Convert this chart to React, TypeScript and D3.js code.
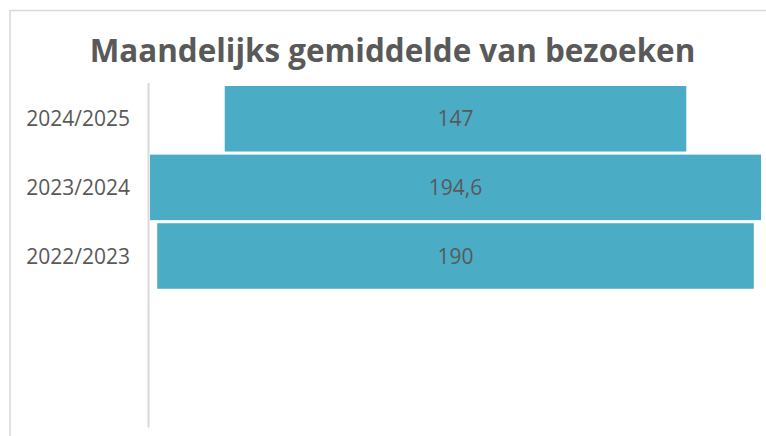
import React from "react";
import * as d3 from "d3";

const title = "Maandelijks gemiddelde van bezoeken";
const categories = ["2024/2025", "2023/2024", "2022/2023"];
const values = [147, 194.6, 190];
const slotCount = 5; // the category axis holds two empty slots below the bars

const W = 766;
const H = 436;

export default function App() {
  const plotLeft = 150;
  const plotRight = 761;
  const centerX = (plotLeft + plotRight) / 2;

  const y = d3
    .scaleBand<number>()
    .domain(d3.range(slotCount))
    .range([84.5, 427.5])
    .paddingInner(0.045)
    .paddingOuter(0.022);

  const w = d3
    .scaleLinear()
    .domain([0, d3.max(values) as number])
    .range([0, plotRight - plotLeft]);

  const fmt = (v: number) => String(v).replace(".", ",");
  const font = "'Open Sans', 'DejaVu Sans', sans-serif";

  return (
    <svg
      width={W}
      height={H}
      style={{ position: "absolute", left: 0, top: 0, background: "#fff" }}
    >
      <rect
        x={10}
        y={10.5}
        width={W + 20}
        height={H + 20}
        fill="#fff"
        stroke="#d9d9d9"
        strokeWidth={1.5}
      />
      <text
        x={392.5}
        y={62}
        textAnchor="middle"
        fontFamily={font}
        fontWeight={700}
        fontSize={31.4}
        fill="#595959"
      >
        {title}
      </text>
      {values.map((v, i) => {
        const bw = w(v);
        return (
          <g key={categories[i]}>
            <rect
              x={centerX - bw / 2}
              y={y(i)}
              width={bw}
              height={y.bandwidth()}
              fill="#4BACC6"
            />
            <text
              x={centerX}
              y={(y(i) as number) + y.bandwidth() / 2}
              dy="0.36em"
              textAnchor="middle"
              fontFamily={font}
              fontSize={21}
              fill="#595959"
            >
              {fmt(v)}
            </text>
            <text
              x={130}
              y={(y(i) as number) + y.bandwidth() / 2}
              dy="0.36em"
              textAnchor="end"
              fontFamily={font}
              fontSize={21}
              fill="#595959"
            >
              {categories[i]}
            </text>
          </g>
        );
      })}
      <line
        x1={148.5}
        x2={148.5}
        y1={83}
        y2={427.5}
        stroke="#d9d9d9"
        strokeWidth={2}
      />
    </svg>
  );
}
